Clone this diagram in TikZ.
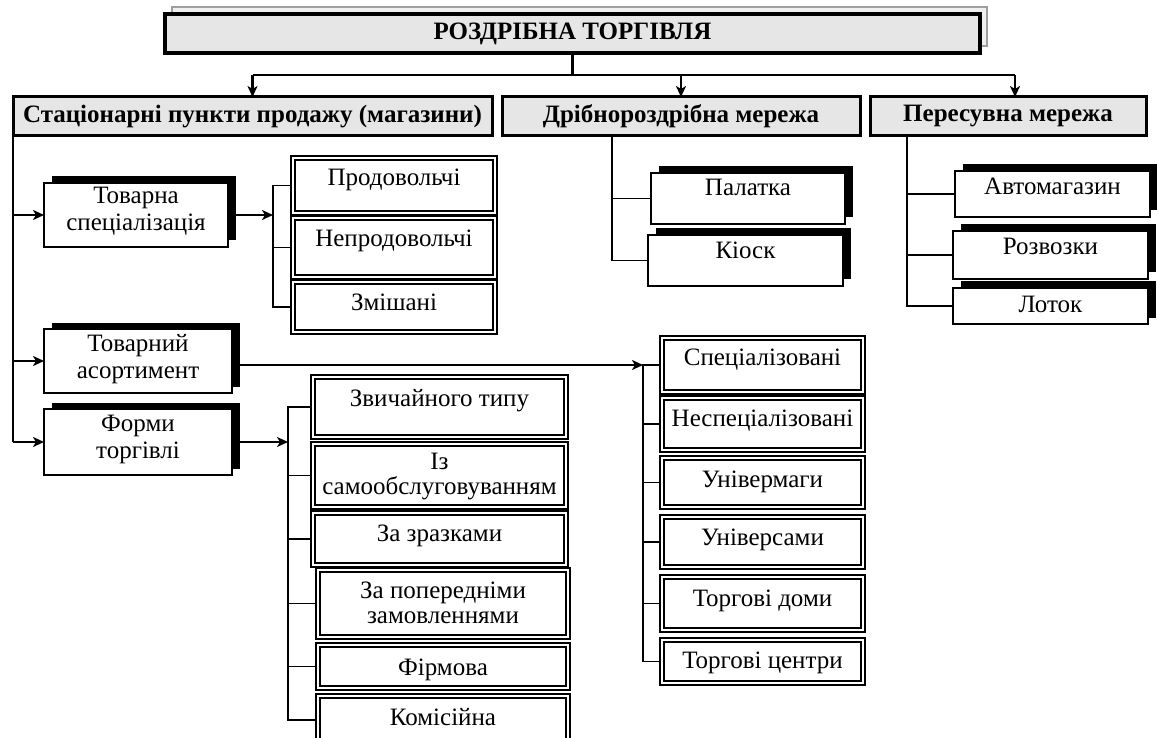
\documentclass[tikz,border=0pt]{standalone}
\usepackage{fontspec}
\setmainfont{Liberation Serif}
\usetikzlibrary{arrows.meta,shadows}
\definecolor{boxgray}{HTML}{E6E6E6}
\pgfdeclarelayer{bg}
\pgfsetlayers{bg,main}
\newcommand\bt[4]{\parbox[c][#2pt][t]{#1pt}{\centering\rule{0pt}{#3pt}#4\par}}
\tikzset{
  conn/.style={line width=2.6pt},
  arr/.style={conn,-{Stealth[length=11pt,width=10pt,inset=3pt]}},
  br/.style={line width=1.6pt},
  dbl/.style={draw,double,line width=2.5pt,double distance=1.2pt,fill=white,anchor=north west,inner sep=0pt,outer sep=0pt},
  shd/.style={draw,line width=1.5pt,fill=white,anchor=north west,inner sep=0pt,outer sep=0pt,
    drop shadow={shadow xshift=7.5pt,shadow yshift=6.5pt,fill=black,opacity=1}},
  lvl/.style={draw,line width=3pt,fill=boxgray,anchor=north west,inner sep=0pt,outer sep=0pt,font=\fontsize{25}{27}\selectfont\bfseries},
  ttl/.style={draw,line width=4pt,fill=boxgray,anchor=north west,inner sep=0pt,outer sep=0pt,font=\fontsize{25}{27}\selectfont\bfseries,
    drop shadow={shadow xshift=7pt,shadow yshift=7pt,fill=gray!12,draw=gray!75,line width=2.5pt,opacity=1}},
}
\begin{document}
\begin{tikzpicture}[x=1pt,y=-1pt,font=\fontsize{25}{25}\selectfont]
\useasboundingbox (0,0) rectangle (1157,738);
% title
\node[ttl,minimum width=815pt,minimum height=39pt] (title) at (165,14) {РОЗДРІБНА ТОРГІВЛЯ};
% level 2
\node[lvl,minimum width=479pt,minimum height=39pt] (L1) at (13,97) {Стаціонарні пункти продажу (магазини)};
\node[lvl,minimum width=358pt,minimum height=39pt] (L2) at (502,97) {Дрібнороздрібна мережа};
\node[lvl,minimum width=276pt,minimum height=39pt] (L3) at (870,97) {Пересувна мережа};
% left column
\node[shd] (t1) at (44,183) {\bt{184}{64}{21}{Товарна\\[2pt]спеціалізація}};
\node[shd] (t2) at (44,329) {\bt{188}{64}{22}{Товарний\\[2pt]асортимент}};
\node[shd] (t3) at (44,409) {\bt{188}{66}{22}{Форми\\[2pt]торгівлі}};
% specialisation
\node[dbl] (p1) at (293,158) {\bt{202}{55}{28}{Продовольчі}};
\node[dbl] (p2) at (293,218) {\bt{202}{59}{29}{Непродовольчі}};
\node[dbl] (p3) at (293,282) {\bt{202}{50}{28}{Змішані}};
% forms
\node[dbl] (f1) at (313,377) {\bt{253}{60}{29}{Звичайного типу}};
\node[dbl] (f2) at (313,444) {\bt{253}{63}{25}{Із\\самообслуговуванням}};
\node[dbl] (f3) at (313,513) {\bt{253}{52}{28}{За зразками}};
\node[dbl] (f4) at (318,570) {\bt{250}{67}{28}{За попередніми\\замовленнями}};
\node[dbl] (f5) at (318,645) {\bt{250}{43}{30}{Фірмова}};
\node[dbl] (f6) at (318,696) {\bt{250}{48}{29}{Комісійна}};
% assortment
\node[dbl] (s1) at (662,338) {\bt{201}{54}{27}{Спеціалізовані}};
\node[dbl] (s2) at (662,398) {\bt{201}{52}{28}{Неспеціалізовані}};
\node[dbl] (s3) at (662,458) {\bt{201}{49}{29}{Універмаги}};
\node[dbl] (s4) at (662,517) {\bt{201}{50}{28}{Універсами}};
\node[dbl] (s5) at (662,577) {\bt{201}{53}{29}{Торгові доми}};
\node[dbl] (s6) at (662,640) {\bt{201}{43}{28}{Торгові центри}};
% small retail
\node[shd] (k1) at (651,173) {\bt{194}{51}{23}{Палатка}};
\node[shd] (k2) at (648,235) {\bt{195}{51}{23}{Кіоск}};
% mobile
\node[shd] (a1) at (955,171) {\bt{195}{46}{24}{Автомагазин}};
\node[shd] (a2) at (953,231) {\bt{195}{48}{24}{Розвозки}};
\node[shd] (a3) at (953,288) {\bt{195}{36}{24}{Лоток}};
% connector points
\coordinate (h) at (600,75);
\coordinate (b1) at (273,0);
\coordinate (b2) at (288,0);
\coordinate (b3) at (643,0);
\coordinate (b4) at (612,0);
\coordinate (b5) at (907,0);
\begin{pgfonlayer}{bg}
\fill[white] (0,0) rectangle (1157,738);
\draw[conn] (title.south) -- (title.south |- h);
\draw[conn] (L1.north |- h) -- ([xshift=7pt]L3.north |- h);
\draw[arr] (L1.north |- h) -- (L1.north);
\draw[arr] (L2.north |- h) -- (L2.north);
\draw[arr] ([xshift=7pt]L3.north |- h) -- ([xshift=7pt]L3.north);
% left spine
\draw[conn] (L1.south west) -- (L1.south west |- t3.west);
\draw[arr] (L1.south west |- t1.west) -- (t1.west);
\draw[arr] (L1.south west |- t2.west) -- (t2.west);
\draw[arr] (L1.south west |- t3.west) -- (t3.west);
% specialisation bracket
\draw[arr] (t1.east) -- (t1.east -| b1);
\draw[br] (p1.west) -- (p1.west -| b1) -- (p3.west -| b1) -- (p3.west);
\draw[br] (p2.west) -- (p2.west -| b1);
% forms bracket
\draw[arr] (t3.east) -- (t3.east -| b2);
\draw[br] (f1.west) -- (f1.west -| b2) -- (f6.west -| b2) -- (f6.west);
\foreach \n in {f2,f3,f4,f5} \draw[br] (\n.west) -- (\n.west -| b2);
% assortment bracket
\draw[arr] (t2.east |- s1.west) -- (s1.west -| b3);
\draw[br] (s1.west) -- (s1.west -| b3) -- (s6.west -| b3) -- (s6.west);
\foreach \n in {s2,s3,s4,s5} \draw[br] (\n.west) -- (\n.west -| b3);
% small retail
\draw[br] (L2.south -| b4) -- (k2.west -| b4) -- (k2.west);
\draw[br] (k1.west) -- (k1.west -| b4);
% mobile
\draw[br] (L3.south -| b5) -- (a3.west -| b5) -- (a3.west);
\draw[br] (a1.west) -- (a1.west -| b5);
\draw[br] (a2.west) -- (a2.west -| b5);
\end{pgfonlayer}
\end{tikzpicture}
\end{document}
